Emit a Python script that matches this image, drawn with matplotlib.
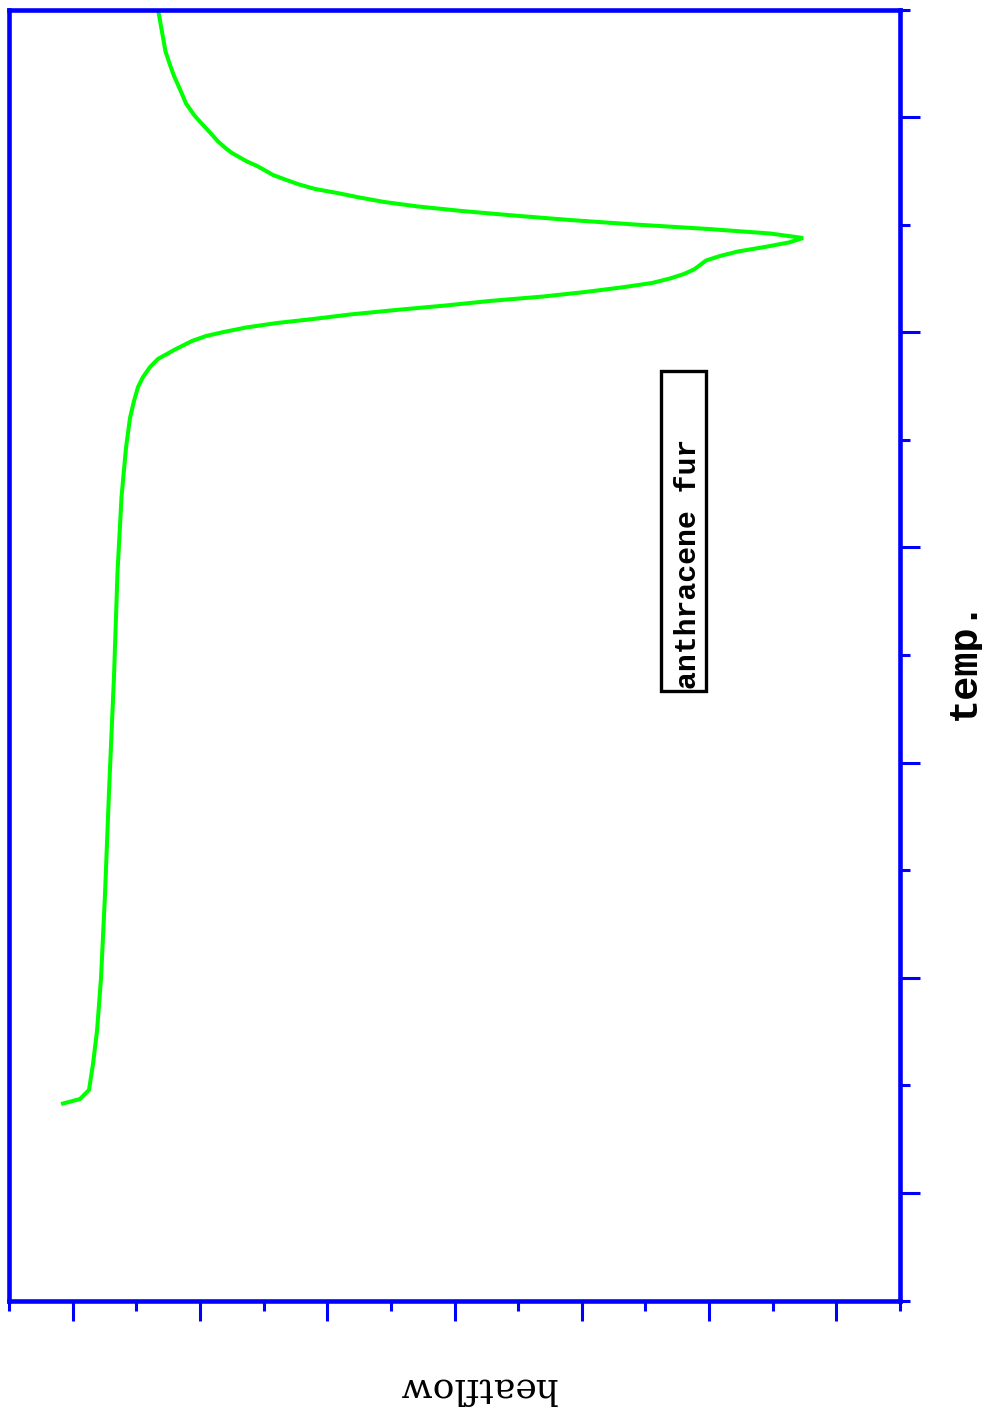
import matplotlib.pyplot as plt
from matplotlib.patches import Rectangle
from matplotlib.ticker import FixedLocator, NullFormatter

# DSC trace, heat flow (horizontal) against temperature (vertical)
heatflow = [0.849, 1.116, 1.257, 1.320, 1.383, 1.446, 1.508, 1.571, 1.650, 1.705,
            1.768, 1.838, 1.901, 1.964, 2.027, 2.106, 2.216, 2.341, 2.467, 2.593,
            2.718, 2.876, 3.096, 3.378, 3.724, 4.211, 4.777, 5.358, 6.081, 6.867,
            7.558, 8.391, 9.051, 9.617, 10.104, 10.387, 10.607, 10.764, 10.858, 10.952,
            11.172, 11.455, 11.879, 12.257, 12.476, 11.958, 10.984, 9.821, 8.800, 7.935,
            7.118, 6.427, 5.893, 5.468, 5.154, 4.808, 4.557, 4.337, 4.148, 4.023,
            3.897, 3.740, 3.614, 3.504, 3.410, 3.284, 3.158, 3.033, 2.907, 2.781,
            2.718, 2.656, 2.593, 2.530, 2.459, 2.396, 2.349]
temp = [1.831, 1.873, 1.957, 2.198, 2.505, 2.998, 3.769, 4.727, 5.805, 6.772,
        7.469, 7.924, 8.203, 8.361, 8.491, 8.584, 8.677, 8.752, 8.793, 8.835,
        8.872, 8.919, 8.965, 9.003, 9.044, 9.086, 9.123, 9.165, 9.207, 9.249,
        9.291, 9.332, 9.374, 9.416, 9.458, 9.500, 9.542, 9.584, 9.625, 9.667,
        9.709, 9.751, 9.793, 9.835, 9.876, 9.918, 9.960, 10.002, 10.044, 10.085,
        10.127, 10.169, 10.211, 10.257, 10.295, 10.332, 10.374, 10.420, 10.462, 10.504,
        10.546, 10.587, 10.629, 10.666, 10.708, 10.773, 10.857, 10.936, 11.020, 11.127,
        11.215, 11.299, 11.382, 11.485, 11.610, 11.819, 11.977]

sample_name = "anthracene fur"
x_label = "heatflow"
y_label = "temp."

blue = "#0000ff"
green = "#00ff00"

fig = plt.figure(figsize=(9.82, 14.07), dpi=100)
W, H = 982, 1407
ax = fig.add_axes([9 / W, (H - 1300.5) / H, 891 / W, 1291 / H])

ax.plot(heatflow, temp, color=green, lw=2.9, solid_joinstyle="miter")

ax.set_xlim(0, 14)
ax.set_ylim(0, 12)

for side in ax.spines.values():
    side.set_color(blue)
    side.set_linewidth(3.3)

ax.xaxis.set_major_locator(FixedLocator(range(1, 14, 2)))
ax.xaxis.set_minor_locator(FixedLocator(range(0, 15, 2)))
ax.yaxis.set_major_locator(FixedLocator(range(1, 12, 2)))
ax.yaxis.set_minor_locator(FixedLocator(range(0, 13, 2)))
for a in (ax.xaxis, ax.yaxis):
    a.set_major_formatter(NullFormatter())
    a.set_minor_formatter(NullFormatter())
ax.yaxis.tick_right()
ax.tick_params(which="both", direction="out", color=blue, width=2.2,
               bottom=True, top=False, left=False, right=True)
ax.tick_params(which="major", length=14.5)
ax.tick_params(which="minor", length=7.5)

# sample name box
ax.add_patch(Rectangle((0.732, 0.472), 0.050, 0.248, transform=ax.transAxes,
                       fill=False, ec="black", lw=2.4))
ax.text(0.762, 0.474, sample_name, transform=ax.transAxes, rotation=90,
        ha="center", va="bottom", fontsize=21.5, fontweight="bold",
        family="Liberation Mono", color="black")

fig.text(477 / W, (H - 1388) / H, x_label, rotation=180, ha="center", va="center",
         fontsize=26, family="DejaVu Serif", color="black")
fig.text(964 / W, (H - 660) / H, y_label, rotation=90, ha="center", va="center",
         fontsize=29, fontweight="bold", family="Liberation Mono", color="black")

fig.savefig("out.png", dpi=100)
